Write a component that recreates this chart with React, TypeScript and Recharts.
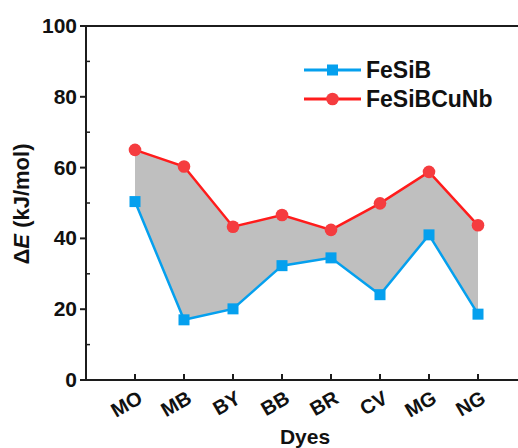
import { ComposedChart, Area, Line, XAxis, YAxis, Legend, ReferenceLine } from 'recharts';

const dyes = ['MO', 'MB', 'BY', 'BB', 'BR', 'CV', 'MG', 'NG'];
const feSiB = [50.4, 17.0, 20.1, 32.3, 34.5, 24.1, 41.0, 18.6];
const feSiBCuNb = [65.0, 60.3, 43.3, 46.6, 42.4, 49.9, 58.8, 43.7];
const yAll = [0, 10, 20, 30, 40, 50, 60, 70, 80, 90, 100];

const BLUE = '#05a0ee';
const RED = '#ff1c1c';
const RED_DOT = '#f53c3f';
const FONT = '"Liberation Sans", Arial, sans-serif';
const AXIS = '#1c1c1c';

const data = dyes.map((d, i) => ({
  x: i + 1,
  name: d,
  a: feSiB[i],
  b: feSiBCuNb[i],
  range: [feSiB[i], feSiBCuNb[i]],
}));

function YTick({ x, y, payload }: any) {
  const major = payload.value % 20 === 0;
  return (
    <g>
      {major ? (
        <line x1={x - 6} x2={x} y1={y} y2={y} stroke={AXIS} strokeWidth={2} />
      ) : (
        <line x1={x} x2={x + 4} y1={y} y2={y} stroke={AXIS} strokeWidth={1.5} />
      )}
      {major && (
        <text x={x - 9} y={y + 7} textAnchor="end" fontFamily={FONT} fontWeight="bold" fontSize={21} fill="#111">
          {payload.value}
        </text>
      )}
    </g>
  );
}

function XTick({ x, y, payload }: any) {
  const px = x + 9;
  const py = y + 22;
  return (
    <g>
      <line x1={x} x2={x} y1={y} y2={y - 6} stroke={AXIS} strokeWidth={2} />
      <text
        x={0}
        y={0}
        transform={`matrix(0.866 -0.5 0.5 0.866 ${px} ${py})`}
        textAnchor="end"
        fontFamily={FONT}
        fontWeight="bold"
        fontSize={20}
        fill="#111"
      >
        {dyes[payload.value - 1]}
      </text>
    </g>
  );
}

function SquareDot({ cx, cy, index }: any) {
  return <rect key={`s${index}`} x={cx - 5.5} y={cy - 5.5} width={11} height={11} fill={BLUE} />;
}

function CircleDot({ cx, cy, index }: any) {
  return <circle key={`c${index}`} cx={cx} cy={cy} r={6.3} fill={RED_DOT} />;
}

function LegendBox() {
  const rows = [
    { label: 'FeSiB', color: BLUE, square: true },
    { label: 'FeSiBCuNb', color: RED, square: false },
  ];
  return (
    <svg width={210} height={60}>
      {rows.map((r, i) => {
        const cy = 14 + i * 29;
        return (
          <g key={r.label}>
            <line x1={2} x2={59} y1={cy} y2={cy} stroke={r.color} strokeWidth={3} />
            {r.square ? (
              <rect x={25} y={cy - 5.5} width={11} height={11} fill={r.color} />
            ) : (
              <circle cx={30.5} cy={cy} r={6.3} fill={RED_DOT} />
            )}
            <text x={64} y={cy + 8} fontFamily={FONT} fontWeight="bold" fontSize={23} fill="#111">
              {r.label}
            </text>
          </g>
        );
      })}
    </svg>
  );
}

function YLabel() {
  return (
    <g transform="translate(29 204) rotate(-90)">
      <text x={0} y={0} textAnchor="middle" fontFamily={FONT} fontWeight="bold" fontSize={22} fill="#111">
        Δ<tspan fontStyle="italic">E</tspan> (kJ/mol)
      </text>
    </g>
  );
}

function DyesLabel() {
  return (
    <text x={305} y={444} textAnchor="middle" fontFamily={FONT} fontWeight="bold" fontSize={21} fill="#111">
      Dyes
    </text>
  );
}

export default function App() {
  return (
    <div style={{ position: 'absolute', left: 0, top: 0, width: 518, height: 448, overflow: 'hidden', background: '#fff' }}>
      <ComposedChart width={545} height={448} data={data} margin={{ top: 26, right: 18, left: 0, bottom: 0 }}>
        <XAxis
          dataKey="x"
          type="number"
          domain={[0, 9]}
          ticks={[1, 2, 3, 4, 5, 6, 7, 8]}
          tick={(props: any) => <XTick {...props} />}
          tickSize={0}
          tickMargin={0}
          interval={0}
          height={68}
          stroke={AXIS}
          strokeWidth={2}
          label={<DyesLabel />}
        />
        <YAxis
          type="number"
          domain={[0, 100]}
          ticks={yAll}
          interval={0}
          tick={<YTick />}
          tickSize={0}
          tickMargin={0}
          width={86}
          stroke={AXIS}
          strokeWidth={2}
          label={<YLabel />}
        />
        <ReferenceLine y={100} stroke={AXIS} strokeWidth={2} />
        <Area
          dataKey="range"
          type="linear"
          fill="#bfbfbf"
          fillOpacity={1}
          stroke="none"
          isAnimationActive={false}
          legendType="none"
        />
        <Line
          dataKey="a"
          type="linear"
          stroke={BLUE}
          strokeWidth={2.5}
          dot={<SquareDot />}
          activeDot={false}
          isAnimationActive={false}
        />
        <Line
          dataKey="b"
          type="linear"
          stroke={RED}
          strokeWidth={2.5}
          dot={<CircleDot />}
          activeDot={false}
          isAnimationActive={false}
        />
        <Legend
          layout="vertical"
          align="center"
          verticalAlign="middle"
          content={<LegendBox />}
          wrapperStyle={{ left: 302, top: 56, width: 210, height: 60 }}
        />
      </ComposedChart>
    </div>
  );
}
